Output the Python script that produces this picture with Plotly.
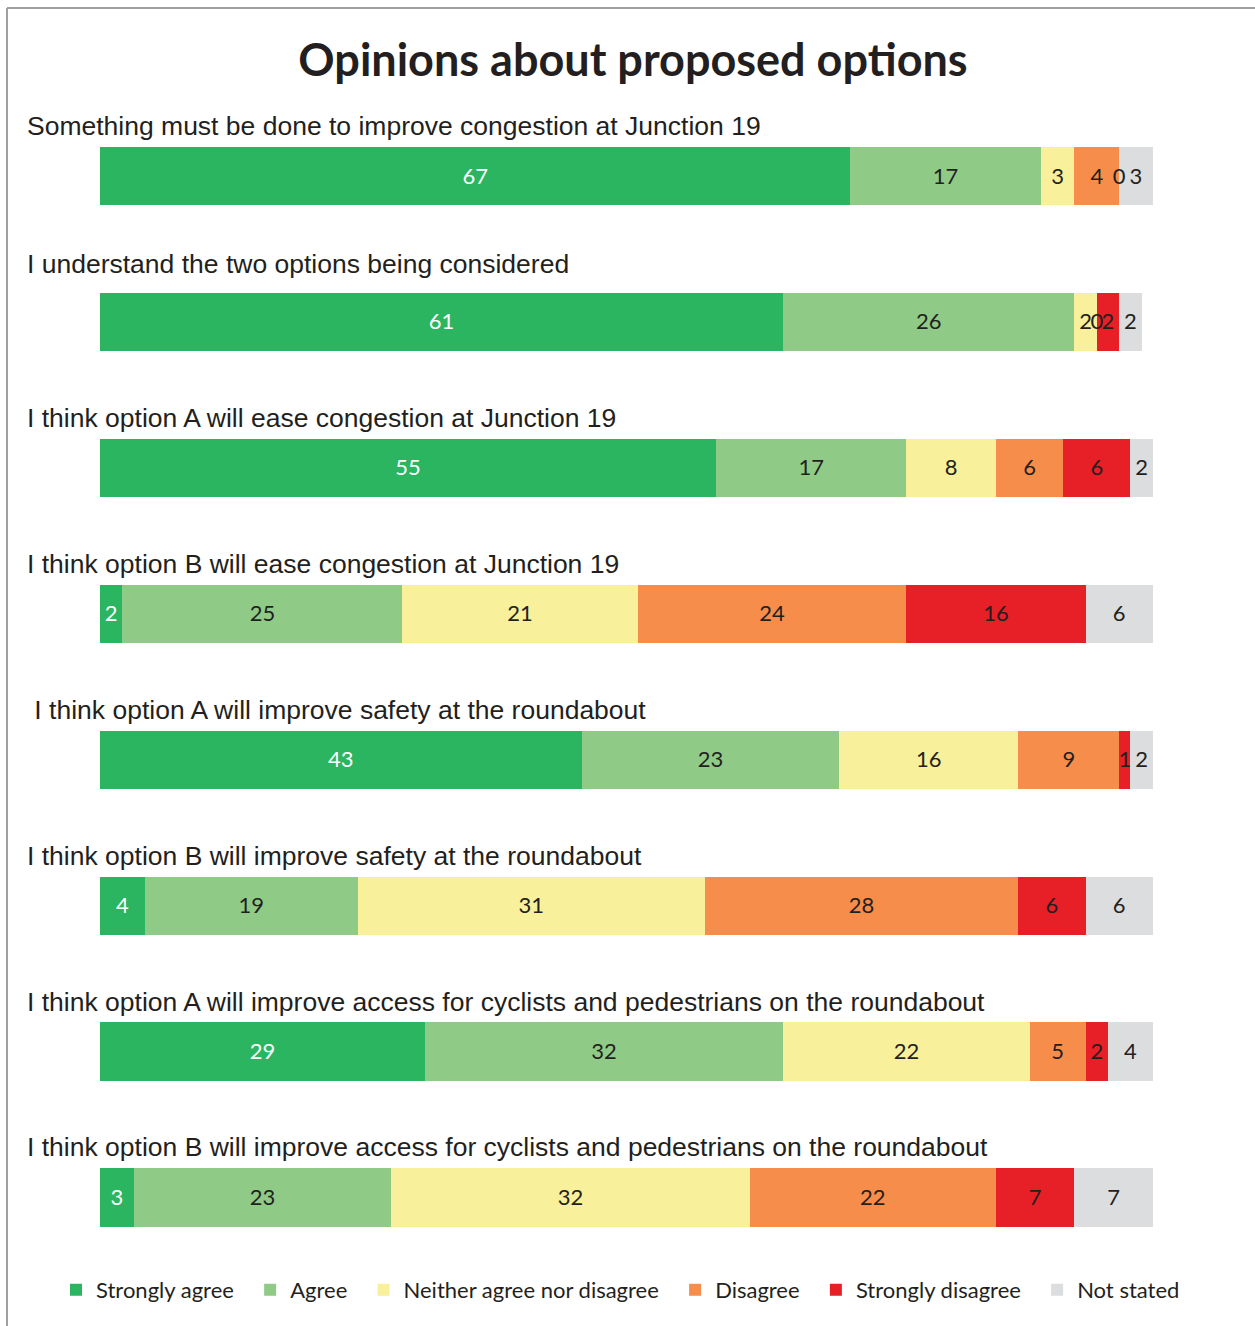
import plotly.graph_objects as go
import numpy as np

questions = [
    "Something must be done to improve congestion at Junction 19",
    "I understand the two options being considered",
    "I think option A will ease congestion at Junction 19",
    "I think option B will ease congestion at Junction 19",
    "\u00a0I think option A will improve safety at the roundabout",
    "I think option B will improve safety at the roundabout",
    "I think option A will improve access for cyclists and pedestrians on the roundabout",
    "I think option B will improve access for cyclists and pedestrians on the roundabout",
]

responses = ["Strongly agree", "Agree", "Neither agree nor disagree",
             "Disagree", "Strongly disagree", "Not stated"]

strongly_agree = [67, 61, 55, 2, 43, 4, 29, 3]
agree = [17, 26, 17, 25, 23, 19, 32, 23]
neither = [3, 2, 8, 21, 16, 31, 22, 32]
disagree = [4, 0, 6, 24, 9, 28, 5, 22]
strongly_disagree = [0, 2, 6, 16, 1, 6, 2, 7]
not_stated = [3, 2, 2, 6, 2, 6, 4, 7]

series = [strongly_agree, agree, neither, disagree, strongly_disagree, not_stated]
colors = ["#2BB560", "#8FCB87", "#F8F09A", "#F68D4A", "#E71F27", "#DCDDDE"]
text_colors = ["#FFFFFF", "#231F20", "#231F20", "#231F20", "#231F20", "#231F20"]

rows = list(range(len(questions)))
num_font = "Lato, Calibri, sans-serif"
label_font = "Liberation Sans, Arial, sans-serif"

fig = go.Figure()
pad = "\u00a0" * 2
for name, vals, col in zip(responses, series, colors):
    fig.add_trace(go.Bar(
        y=rows, x=vals, orientation="h", name=name + pad,
        marker=dict(color=col, line=dict(width=0)), width=0.4,
        hoverinfo="x+name",
    ))

arr = np.array(series, dtype=float)
cum = np.cumsum(arr, axis=0)
starts = cum - arr
mids = (starts + cum) / 2
for k, (vals, tc) in enumerate(zip(series, text_colors)):
    fig.add_trace(go.Scatter(
        x=mids[k], y=np.array(rows) + 0.012, mode="text", text=[str(v) for v in vals],
        textposition="middle center",
        textfont=dict(family=num_font, size=22, color=tc),
        showlegend=False, hoverinfo="skip", cliponaxis=False,
    ))

annotations = []
for i, q in enumerate(questions):
    annotations.append(dict(
        x=(25 - 100) / 1120, xref="paper", y=i - 0.343, yref="y",
        text=q, showarrow=False, xanchor="left", yanchor="middle",
        yshift=8 if i == 1 else 0,
        font=dict(family=label_font, size=26.5, color="#231F20"),
    ))

line_col = "#A0A0A0"
shapes = [
    dict(type="line", xref="paper", yref="paper", x0=(7 - 100) / 1120, x1=(1255 - 100) / 1120,
         y0=1 + (45 - 8) / 1240, y1=1 + (45 - 8) / 1240, line=dict(color=line_col, width=2)),
    dict(type="line", xref="paper", yref="paper", x0=(7 - 100) / 1120, x1=(7 - 100) / 1120,
         y0=1 + (45 - 8) / 1240, y1=-(1326 - 1285) / 1240, line=dict(color=line_col, width=2)),
]

fig.update_layout(
    width=1255, height=1326,
    margin=dict(l=100, r=35, t=45, b=41, autoexpand=False),
    paper_bgcolor="white", plot_bgcolor="white",
    barmode="stack",
    bargap=0,
    title=dict(text="<b>Opinions about proposed options</b>", x=633 / 1255, xanchor="center",
               y=1 - 60 / 1326, yanchor="middle", yref="container",
               font=dict(family=num_font, size=45, color="#231F20")),
    xaxis=dict(range=[0, 100], showgrid=False, zeroline=False, showticklabels=False,
               showline=False, fixedrange=True),
    yaxis=dict(range=[7.6, -0.9], showgrid=False, zeroline=False, showticklabels=False,
               showline=False, fixedrange=True),
    legend=dict(orientation="h", x=(56 - 100) / 1120, xanchor="left", y=-0.004, yanchor="middle",
                font=dict(family=num_font, size=22, color="#231F20"),
                bgcolor="rgba(0,0,0,0)", traceorder="normal"),
    annotations=annotations,
    shapes=shapes,
    showlegend=True,
)

fig.write_html("out.html")
